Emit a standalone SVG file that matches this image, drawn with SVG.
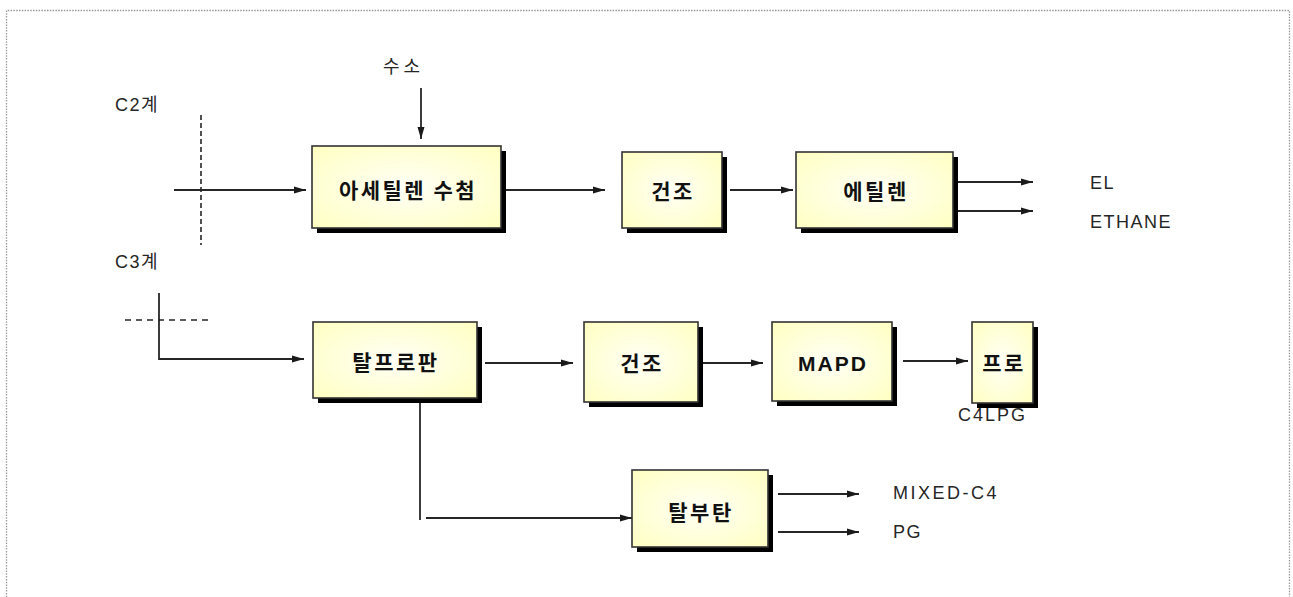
<svg xmlns="http://www.w3.org/2000/svg" width="1293" height="597" viewBox="0 0 1293 597">
<style>
.box{fill:url(#g);stroke:#333;stroke-width:1.6}
.sh{fill:#000}
.bt{font-family:"Noto Sans CJK KR","Liberation Sans",sans-serif;font-weight:bold;font-size:21px;fill:#111;text-anchor:middle;letter-spacing:2.5px}
.lt{font-family:"Liberation Sans","Noto Sans CJK KR",sans-serif;font-weight:bold;font-size:21px;fill:#111;text-anchor:middle;letter-spacing:2px}
.st{font-family:"Liberation Sans","Noto Sans CJK KR",sans-serif;font-size:18px;fill:#262626;letter-spacing:1.5px}
.ln{stroke:#262626;stroke-width:1.8;fill:none}
.ar{stroke:#262626;stroke-width:1.8;fill:none;marker-end:url(#ah)}
.ds{stroke:#262626;stroke-width:1.6;fill:none;stroke-dasharray:5 3}
</style>
<defs>
<radialGradient id="g" cx="0.5" cy="0.5" r="0.7">
<stop offset="0" stop-color="#fffff6"/>
<stop offset="1" stop-color="#ffffc2"/>
</radialGradient>
<marker id="ah" markerWidth="13" markerHeight="9" refX="12" refY="4.5" orient="auto" markerUnits="userSpaceOnUse">
<path d="M0,1 L12,4.5 L0,8 Z" fill="#1a1a1a"/>
</marker>
</defs>
<rect width="1293" height="597" fill="#fff"/>
<path d="M6.5,600 V10.5 H1289.5 V600" fill="none" stroke="#999" stroke-width="1.3" stroke-dasharray="1.5 1.3"/>

<g id="labels">
<text class="st" x="115" y="111">C2계</text>
<text class="st" x="383" y="73" style="letter-spacing:4px">수소</text>
<text class="st" x="115" y="268">C3계</text>
<text class="st" x="1090" y="189">EL</text>
<text class="st" x="1090" y="228">ETHANE</text>
<text class="st" x="893" y="499" style="letter-spacing:2.5px">MIXED-C4</text>
<text class="st" x="893" y="538">PG</text>
</g>

<g id="connectors">
<path class="ds" d="M201,115 V245"/>
<path class="ar" d="M174,190 H306"/>
<path class="ar" d="M421,88 V139"/>
<path class="ar" d="M505,190 H605"/>
<path class="ar" d="M730,190 H793"/>
<path class="ar" d="M958,182 H1033"/>
<path class="ar" d="M958,211 H1033"/>
<path class="ds" d="M125,320 H212" style="stroke-dasharray:6 5"/>
<path class="ar" d="M159,293 V359 H304"/>
<path class="ar" d="M485,363 H573"/>
<path class="ar" d="M703,363 H763"/>
<path class="ar" d="M903,361 H968"/>
<path class="ln" d="M420,403 V520"/>
<path class="ar" d="M426,518 H632"/>
<path class="ar" d="M778,494 H859"/>
<path class="ar" d="M778,532 H859"/>
</g>

<g id="n-acetylene">
<rect class="sh" x="317" y="151" width="189" height="82"/>
<rect class="box" x="312" y="146" width="189" height="82"/>
<text class="bt" x="408" y="198">아세틸렌 수첨</text>
</g>
<g id="n-dry1">
<rect class="sh" x="627" y="157" width="100" height="76"/>
<rect class="box" x="622" y="152" width="100" height="76"/>
<text class="bt" x="673" y="199">건조</text>
</g>
<g id="n-ethylene">
<rect class="sh" x="801" y="157" width="157" height="76"/>
<rect class="box" x="796" y="152" width="157" height="76"/>
<text class="bt" x="876" y="199">에틸렌</text>
</g>
<g id="n-depropanizer">
<rect class="sh" x="318" y="327" width="164" height="76"/>
<rect class="box" x="313" y="322" width="164" height="76"/>
<text class="bt" x="396" y="370">탈프로판</text>
</g>
<g id="n-dry2">
<rect class="sh" x="589" y="327" width="114" height="80"/>
<rect class="box" x="584" y="322" width="114" height="80"/>
<text class="bt" x="642" y="371">건조</text>
</g>
<g id="n-mapd">
<rect class="sh" x="777" y="327" width="120" height="79"/>
<rect class="box" x="772" y="322" width="120" height="79"/>
<text class="lt" x="833" y="371">MAPD</text>
</g>
<g id="n-pro">
<rect class="sh" x="977" y="327" width="61" height="81"/>
<rect class="box" x="972" y="322" width="61" height="81"/>
<text class="bt" x="1004" y="371">프로</text>
<text class="st" x="958" y="421" style="letter-spacing:2px">C4LPG</text>
</g>
<g id="n-debutanizer">
<rect class="sh" x="637" y="475" width="136" height="77"/>
<rect class="box" x="632" y="470" width="136" height="77"/>
<text class="bt" x="701" y="520">탈부탄</text>
</g>
</svg>
